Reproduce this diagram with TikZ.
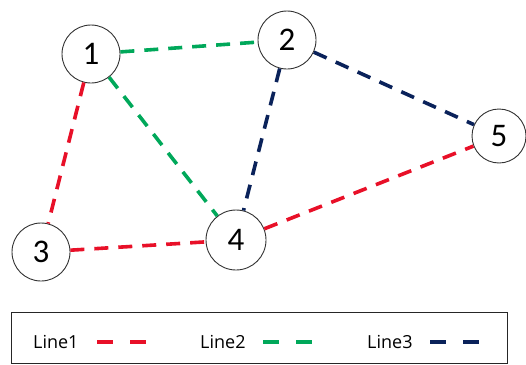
\documentclass[tikz,border=0pt]{standalone}
\usepackage{fontspec}
\setmainfont{Carlito}
\newfontfamily\legfont{Open Sans}
\definecolor{lred}{RGB}{232,16,40}
\definecolor{lgreen}{RGB}{0,168,90}
\definecolor{lnavy}{RGB}{10,34,90}
\begin{document}
\begin{tikzpicture}[x=1pt,y=-1pt,
  vtx/.style={circle,draw=black!80,line width=0.9pt,fill=white,minimum size=58pt,inner sep=0pt,font=\fontsize{33}{33}\selectfont},
  edge/.style={line width=3.6pt,dash pattern=on 14pt off 10pt},
  legdash/.style={line width=3.6pt,dash pattern=on 16pt off 17pt},
  legtxt/.style={font=\legfont\fontsize{18}{18}\selectfont,anchor=west,inner sep=0pt}]
\useasboundingbox (0,0) rectangle (526,364);
\node[vtx] (n1) at (91,54) {1};
\node[vtx] (n2) at (287,40) {2};
\node[vtx] (n3) at (41,252) {3};
\node[vtx,minimum size=60pt] (n4) at (236,240) {4};
\node[vtx,minimum size=54pt] (n5) at (499,136) {5};
\draw[edge,lgreen] (n1) -- (n2);
\draw[edge,lgreen] (n1) -- (n4);
\draw[edge,lred] (n1) -- (n3);
\draw[edge,lred] (n3) -- (n4);
\draw[edge,lred] (n4) -- (n5);
\draw[edge,lnavy] (n2) -- (n4);
\draw[edge,lnavy] (n2) -- (n5);
\node[draw=black!85,line width=1pt,minimum width=496pt,minimum height=51pt,anchor=north west,inner sep=0pt] (leg) at (11,312) {};
\node[legtxt] (t1) at (33,342) {Line1};
\node[legtxt] (t2) at (200,342) {Line2};
\node[legtxt] (t3) at (367,342) {Line3};
\coordinate (a1) at (97,342); \coordinate (b1) at (149,342);
\coordinate (a2) at (263,342); \coordinate (b2) at (315,342);
\coordinate (a3) at (430,342); \coordinate (b3) at (482,342);
\draw[legdash,lred] (a1) -- (b1);
\draw[legdash,lgreen] (a2) -- (b2);
\draw[legdash,lnavy] (a3) -- (b3);
\end{tikzpicture}
\end{document}
